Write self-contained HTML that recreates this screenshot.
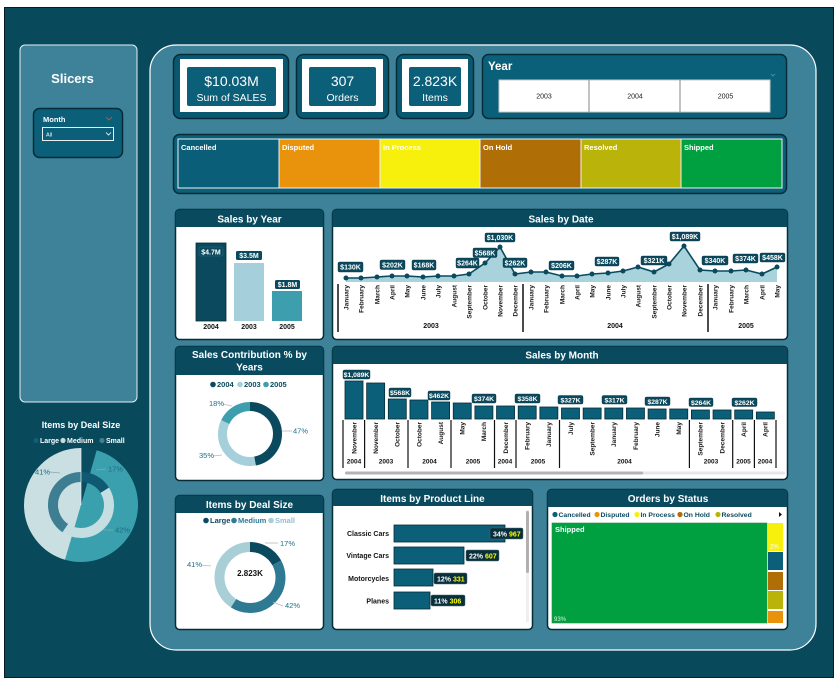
<!DOCTYPE html>
<html><head><meta charset="utf-8"><style>
html,body{margin:0;padding:0;background:#fff}
svg{display:block}
text{font-family:"Liberation Sans",sans-serif}
.b{font-weight:bold}
</style></head><body>
<svg width="838" height="685" viewBox="0 0 838 685" xmlns="http://www.w3.org/2000/svg">
<rect width="838" height="685" fill="#fff"/>
<rect x="4.5" y="7.5" width="829" height="670" fill="#08495b" stroke="#0a1a20"/>
<!-- main panel -->
<rect x="150" y="45" width="666" height="605" rx="26" fill="#3e8299" stroke="#fff" stroke-width="1.2"/>
<!-- slicers -->
<rect x="20" y="45" width="117" height="357" rx="5" fill="#3e8299" stroke="#e6eef0"/>
<text x="72.5" y="83" font-size="13" class="b" fill="#fff" text-anchor="middle">Slicers</text>
<rect x="33.5" y="108.5" width="89" height="49" rx="6" fill="#0b5f78" stroke="#062c38" stroke-width="1.5"/>
<text x="43" y="122" font-size="7.5" class="b" fill="#fff">Month</text>
<path d="M106,117 l3,3 l3,-3" stroke="#c0603a" fill="none" stroke-width="0.8"/>
<rect x="42.5" y="127.5" width="71" height="13" fill="#0b5f78" stroke="#e8eef0"/>
<text x="46" y="136.5" font-size="5.5" fill="#fff">All</text>
<path d="M106,132.5 l2.5,2.5 l2.5,-2.5" stroke="#fff" fill="none" stroke-width="0.8"/>

<!-- KPI cards -->
<rect x="173.5" y="54.5" width="115" height="64" rx="7" fill="#0a5870" stroke="#062c38" stroke-width="1.5"/>
<rect x="180" y="59" width="103" height="53" fill="#fff"/>
<rect x="187" y="67" width="89" height="39" rx="2" fill="#0b5f78"/>
<text x="231.5" y="86" font-size="14" fill="#fff" text-anchor="middle">$10.03M</text>
<text x="231.5" y="101" font-size="10.5" fill="#fff" text-anchor="middle">Sum of SALES</text>

<rect x="296.5" y="54.5" width="92" height="64" rx="7" fill="#0a5870" stroke="#062c38" stroke-width="1.5"/>
<rect x="302" y="59" width="81" height="53" fill="#fff"/>
<rect x="309" y="67" width="67" height="39" rx="2" fill="#0b5f78"/>
<text x="342.5" y="86" font-size="14" fill="#fff" text-anchor="middle">307</text>
<text x="342.5" y="101" font-size="10.5" fill="#fff" text-anchor="middle">Orders</text>

<rect x="396.5" y="54.5" width="77" height="64" rx="7" fill="#0a5870" stroke="#062c38" stroke-width="1.5"/>
<rect x="402" y="59" width="66" height="53" fill="#fff"/>
<rect x="409" y="67" width="52" height="39" rx="2" fill="#0b5f78"/>
<text x="435" y="86" font-size="14" fill="#fff" text-anchor="middle">2.823K</text>
<text x="435" y="101" font-size="10.5" fill="#fff" text-anchor="middle">Items</text>

<!-- Year slicer -->
<rect x="482.5" y="54.5" width="304" height="64" rx="6" fill="#0b6079" stroke="#062c38" stroke-width="1.5"/>
<text x="488" y="70" font-size="11.5" class="b" fill="#fff">Year</text>
<path d="M771,74 l2,2 l2,-2" stroke="#6a9aab" fill="none" stroke-width="0.7"/>
<rect x="499" y="80" width="271" height="32" fill="#fff" stroke="#c8c8c8"/>
<line x1="589" y1="80" x2="589" y2="112" stroke="#999" stroke-width="1.2"/>
<line x1="680" y1="80" x2="680" y2="112" stroke="#999" stroke-width="1.2"/>
<text x="544" y="98.5" font-size="7" fill="#222" text-anchor="middle">2003</text>
<text x="635" y="98.5" font-size="7" fill="#222" text-anchor="middle">2004</text>
<text x="725.5" y="98.5" font-size="7" fill="#222" text-anchor="middle">2005</text>

<!-- Status bar -->
<rect x="173.5" y="134.5" width="613" height="59" rx="6" fill="#0b5f78" stroke="#062c38" stroke-width="1.5"/>
<rect x="178" y="139" width="101" height="49" fill="#0a5e78"/>
<rect x="279" y="139" width="101" height="49" fill="#e8930b"/>
<rect x="380" y="139" width="100" height="49" fill="#f7ef0c"/>
<rect x="480" y="139" width="101" height="49" fill="#b06e07"/>
<rect x="581" y="139" width="100" height="49" fill="#bab30a"/>
<rect x="681" y="139" width="101" height="49" fill="#00a040"/>
<g stroke="#f0f0f0" stroke-width="1">
<line x1="279" y1="139" x2="279" y2="188"/><line x1="380" y1="139" x2="380" y2="188"/>
<line x1="480" y1="139" x2="480" y2="188"/><line x1="581" y1="139" x2="581" y2="188"/>
<line x1="681" y1="139" x2="681" y2="188"/>
</g>
<rect x="178" y="139" width="604" height="49" fill="none" stroke="#f0f0f0"/>
<g font-size="7.5" class="b" fill="#fff">
<text x="181" y="150">Cancelled</text><text x="282" y="150">Disputed</text>
<text x="383" y="150">In Process</text><text x="483" y="150">On Hold</text>
<text x="584" y="150">Resolved</text><text x="684" y="150">Shipped</text>
</g>

<!-- Sales by Year card -->
<rect x="175.5" y="209.5" width="148" height="130" rx="4" fill="#fff" stroke="#062c38" stroke-width="1.5"/>
<path d="M175.5,227 V213.5 Q175.5,209.5 179.5,209.5 H319.5 Q323.5,209.5 323.5,213.5 V227 Z" fill="#0a4a5e"/>
<text x="249.5" y="222.5" font-size="10" class="b" fill="#fff" text-anchor="middle">Sales by Year</text>
<rect x="196" y="243" width="30" height="78" fill="#0b4a5e" stroke="#062c38" stroke-width="0.8"/>
<rect x="234" y="263" width="30" height="58" fill="#a4cfdb"/>
<rect x="272" y="291" width="30" height="30" fill="#3d9fae"/>
<rect x="199" y="247" width="24" height="9" rx="1.5" fill="#0b4a5e" stroke="#2a6a80" stroke-width="0.5"/>
<rect x="236" y="251" width="26" height="9" rx="1.5" fill="#0b4a5e"/>
<rect x="275" y="280" width="25" height="9" rx="1.5" fill="#0b4a5e"/>
<g font-size="7" class="b" fill="#fff" text-anchor="middle">
<text x="211" y="254.5">$4.7M</text><text x="249" y="258">$3.5M</text><text x="287.5" y="287">$1.8M</text>
</g>
<g font-size="7" class="b" fill="#111" text-anchor="middle">
<text x="211" y="329">2004</text><text x="249" y="329">2003</text><text x="287" y="329">2005</text>
</g>

<!-- Sales by Date card -->
<rect x="332.5" y="209.5" width="455" height="130" rx="4" fill="#fff" stroke="#062c38" stroke-width="1.5"/>
<path d="M332.5,227 V213.5 Q332.5,209.5 336.5,209.5 H783.5 Q787.5,209.5 787.5,213.5 V227 Z" fill="#0a4a5e"/>
<text x="561" y="222.5" font-size="10" class="b" fill="#fff" text-anchor="middle">Sales by Date</text>
<polygon fill="#a8d2dc" points="346,278 361,278 377,277 392,276 407,276 423,277 438,276 454,276 469,274 485,263 500,247 515,274 531,272 546,272 562,276 577,276 592,274 608,273 623,271 638,267 654,272 669,264 684,246 700,270 715,271 731,271 746,270 762,274 777,267 777,282 346,282"/>
<polyline fill="none" stroke="#0b4a5e" stroke-width="1.6" points="346,278 361,278 377,277 392,276 407,276 423,277 438,276 454,276 469,274 485,263 500,247 515,274 531,272 546,272 562,276 577,276 592,274 608,273 623,271 638,267 654,272 669,264 684,246 700,270 715,271 731,271 746,270 762,274 777,267"/>
<g fill="#0b4a5e">
<circle cx="346" cy="278" r="2.5"/><circle cx="361" cy="278" r="2.5"/><circle cx="377" cy="277" r="2.5"/><circle cx="392" cy="276" r="2.5"/><circle cx="407" cy="276" r="2.5"/><circle cx="423" cy="277" r="2.5"/><circle cx="438" cy="276" r="2.5"/><circle cx="454" cy="276" r="2.5"/><circle cx="469" cy="274" r="2.5"/><circle cx="485" cy="263" r="2.5"/><circle cx="500" cy="247" r="2.5"/><circle cx="515" cy="274" r="2.5"/><circle cx="531" cy="272" r="2.5"/><circle cx="546" cy="272" r="2.5"/><circle cx="562" cy="276" r="2.5"/><circle cx="577" cy="276" r="2.5"/><circle cx="592" cy="274" r="2.5"/><circle cx="608" cy="273" r="2.5"/><circle cx="623" cy="271" r="2.5"/><circle cx="638" cy="267" r="2.5"/><circle cx="654" cy="272" r="2.5"/><circle cx="669" cy="264" r="2.5"/><circle cx="684" cy="246" r="2.5"/><circle cx="700" cy="270" r="2.5"/><circle cx="715" cy="271" r="2.5"/><circle cx="731" cy="271" r="2.5"/><circle cx="746" cy="270" r="2.5"/><circle cx="762" cy="274" r="2.5"/><circle cx="777" cy="267" r="2.5"/>
</g>
<g fill="#0b4a5e" stroke="#062c38" stroke-width="0.4">
<rect x="338" y="262" width="25" height="10" rx="1.5"/>
<rect x="380" y="260" width="25" height="9.5" rx="1.5"/>
<rect x="412" y="260" width="24" height="10" rx="1.5"/>
<rect x="456" y="258" width="23" height="10" rx="1.5"/>
<rect x="473" y="248" width="24" height="9.5" rx="1.5"/>
<rect x="485" y="233" width="30" height="9" rx="1.5"/>
<rect x="503" y="258" width="24" height="9.5" rx="1.5"/>
<rect x="549" y="261" width="25" height="9" rx="1.5"/>
<rect x="595" y="257" width="24" height="9" rx="1.5"/>
<rect x="641" y="256" width="26" height="9" rx="1.5"/>
<rect x="670" y="232" width="30" height="9" rx="1.5"/>
<rect x="702" y="256" width="26" height="9" rx="1.5"/>
<rect x="733" y="254" width="25" height="9" rx="1.5"/>
<rect x="760" y="253" width="25" height="9" rx="1.5"/>
</g>
<g font-size="7" class="b" fill="#fff" text-anchor="middle">
<text x="350.5" y="269.5">$130K</text><text x="392.5" y="267.5">$202K</text><text x="424" y="267.5">$168K</text>
<text x="467.5" y="265.5">$264K</text><text x="485" y="255.5">$568K</text><text x="500" y="240">$1,030K</text>
<text x="515" y="265.5">$262K</text><text x="561.5" y="268">$206K</text><text x="607" y="264">$287K</text>
<text x="654" y="263">$321K</text><text x="685" y="239">$1,089K</text><text x="715" y="263">$340K</text>
<text x="745.5" y="261">$374K</text><text x="772.5" y="260">$458K</text>
</g>
<g font-size="6.5" class="b" fill="#1a1a1a" text-anchor="end">
<text transform="translate(348.3,285) rotate(-90)">January</text>
<text transform="translate(363.3,285) rotate(-90)">February</text>
<text transform="translate(379.3,285) rotate(-90)">March</text>
<text transform="translate(394.3,285) rotate(-90)">April</text>
<text transform="translate(409.3,285) rotate(-90)">May</text>
<text transform="translate(425.3,285) rotate(-90)">June</text>
<text transform="translate(440.3,285) rotate(-90)">July</text>
<text transform="translate(456.3,285) rotate(-90)">August</text>
<text transform="translate(471.3,285) rotate(-90)">September</text>
<text transform="translate(487.3,285) rotate(-90)">October</text>
<text transform="translate(502.3,285) rotate(-90)">November</text>
<text transform="translate(517.3,285) rotate(-90)">December</text>
<text transform="translate(533.3,285) rotate(-90)">January</text>
<text transform="translate(548.3,285) rotate(-90)">February</text>
<text transform="translate(564.3,285) rotate(-90)">March</text>
<text transform="translate(579.3,285) rotate(-90)">April</text>
<text transform="translate(594.3,285) rotate(-90)">May</text>
<text transform="translate(610.3,285) rotate(-90)">June</text>
<text transform="translate(625.3,285) rotate(-90)">July</text>
<text transform="translate(640.3,285) rotate(-90)">August</text>
<text transform="translate(656.3,285) rotate(-90)">September</text>
<text transform="translate(671.3,285) rotate(-90)">October</text>
<text transform="translate(686.3,285) rotate(-90)">November</text>
<text transform="translate(702.3,285) rotate(-90)">December</text>
<text transform="translate(717.3,285) rotate(-90)">January</text>
<text transform="translate(733.3,285) rotate(-90)">February</text>
<text transform="translate(748.3,285) rotate(-90)">March</text>
<text transform="translate(764.3,285) rotate(-90)">April</text>
<text transform="translate(779.3,285) rotate(-90)">May</text>
</g>
<g stroke="#111" stroke-width="1.5">
<line x1="338" y1="284" x2="338" y2="332"/><line x1="523" y1="284" x2="523" y2="332"/><line x1="708" y1="284" x2="708" y2="332"/>
</g>
<g font-size="7" class="b" fill="#111" text-anchor="middle">
<text x="431" y="328">2003</text><text x="615" y="328">2004</text><text x="746" y="328">2005</text>
</g>

<!-- Sales Contribution card -->
<rect x="175.5" y="346.5" width="148" height="134" rx="4" fill="#fff" stroke="#062c38" stroke-width="1.5"/>
<path d="M175.5,375 V350.5 Q175.5,346.5 179.5,346.5 H319.5 Q323.5,346.5 323.5,350.5 V375 Z" fill="#0a4a5e"/>
<text x="249.5" y="358" font-size="10" class="b" fill="#fff" text-anchor="middle">Sales Contribution % by</text>
<text x="249.5" y="370.5" font-size="10" class="b" fill="#fff" text-anchor="middle">Years</text>
<circle cx="213" cy="384.5" r="2.8" fill="#0b4a5e"/><circle cx="240" cy="384.5" r="2.8" fill="#a4cfdb"/><circle cx="266" cy="384.5" r="2.8" fill="#3d9fae"/>
<g font-size="7.5" class="b" fill="#0b4a5e">
<text x="217" y="387">2004</text><text x="244" y="387">2003</text><text x="270" y="387">2005</text>
</g>
<g transform="rotate(-90 250 434)" fill="none" stroke-width="9">
<circle cx="250" cy="434" r="27.5" stroke="#0b4a5e" stroke-dasharray="0 0 81.21 500"/>
<circle cx="250" cy="434" r="27.5" stroke="#a4cfdb" stroke-dasharray="0 81.21 60.48 500"/>
<circle cx="250" cy="434" r="27.5" stroke="#3d9fae" stroke-dasharray="0 141.69 31.1 500"/>
</g>
<g stroke="#b8b8b8" stroke-width="0.8">
<line x1="282" y1="431" x2="292" y2="431"/><line x1="213" y1="456" x2="222" y2="455"/><line x1="223" y1="404" x2="232" y2="406"/>
</g>
<g font-size="7.5" fill="#1a6f88">
<text x="293" y="433.5">47%</text><text x="199" y="458">35%</text><text x="209" y="406">18%</text>
</g>

<!-- Sales by Month card -->
<rect x="332.5" y="346.5" width="455" height="133" rx="4" fill="#fff" stroke="#062c38" stroke-width="1.5"/>
<path d="M332.5,364 V350.5 Q332.5,346.5 336.5,346.5 H783.5 Q787.5,346.5 787.5,350.5 V364 Z" fill="#0a4a5e"/>
<text x="562" y="358.5" font-size="10" class="b" fill="#fff" text-anchor="middle">Sales by Month</text>
<g fill="#0b5f78" stroke="#062c38" stroke-width="0.8">
<rect x="345" y="381" width="18" height="38"/>
<rect x="366.65" y="383" width="18" height="36"/>
<rect x="388.3" y="399" width="18" height="20"/>
<rect x="409.95" y="400" width="18" height="19"/>
<rect x="431.6" y="402" width="18" height="17"/>
<rect x="453.25" y="403" width="18" height="16"/>
<rect x="474.9" y="406" width="18" height="13"/>
<rect x="496.55" y="406" width="18" height="13"/>
<rect x="518.2" y="406" width="18" height="13"/>
<rect x="539.85" y="407" width="18" height="12"/>
<rect x="561.5" y="408" width="18" height="11"/>
<rect x="583.15" y="408" width="18" height="11"/>
<rect x="604.8" y="408" width="18" height="11"/>
<rect x="626.45" y="408" width="18" height="11"/>
<rect x="648.1" y="409" width="18" height="10"/>
<rect x="669.75" y="409" width="18" height="10"/>
<rect x="691.4" y="410" width="18" height="9"/>
<rect x="713.05" y="410" width="18" height="9"/>
<rect x="734.7" y="410" width="18" height="9"/>
<rect x="756.35" y="412" width="18" height="7"/>
</g>
<g fill="#0b4a5e" stroke="#062c38" stroke-width="0.4">
<rect x="343" y="370" width="27" height="9" rx="1.5"/>
<rect x="389" y="388" width="22" height="9" rx="1.5"/>
<rect x="428" y="391" width="22" height="9" rx="1.5"/>
<rect x="472" y="394" width="24" height="9" rx="1.5"/>
<rect x="515" y="394" width="25" height="9" rx="1.5"/>
<rect x="558" y="395.5" width="25" height="8.5" rx="1.5"/>
<rect x="602" y="395.5" width="25" height="8.5" rx="1.5"/>
<rect x="645" y="397" width="25" height="8.5" rx="1.5"/>
<rect x="689" y="398" width="24" height="8.5" rx="1.5"/>
<rect x="732" y="398" width="25" height="8.5" rx="1.5"/>
</g>
<g font-size="6.8" class="b" fill="#fff" text-anchor="middle">
<text x="356.5" y="377">$1,089K</text><text x="400" y="395">$568K</text><text x="439" y="398">$462K</text>
<text x="484" y="401">$374K</text><text x="527.5" y="401">$358K</text><text x="570.5" y="402.5">$327K</text>
<text x="614.5" y="402.5">$317K</text><text x="657.5" y="404">$287K</text><text x="701" y="405">$264K</text>
<text x="744.5" y="405">$262K</text>
</g>
<g font-size="6.5" class="b" fill="#1a1a1a" text-anchor="end">
<text transform="translate(356.3,422) rotate(-90)">November</text>
<text transform="translate(378,422) rotate(-90)">November</text>
<text transform="translate(399.6,422) rotate(-90)">October</text>
<text transform="translate(421.3,422) rotate(-90)">October</text>
<text transform="translate(442.9,422) rotate(-90)">August</text>
<text transform="translate(464.6,422) rotate(-90)">May</text>
<text transform="translate(486.2,422) rotate(-90)">March</text>
<text transform="translate(507.9,422) rotate(-90)">December</text>
<text transform="translate(529.5,422) rotate(-90)">February</text>
<text transform="translate(551.2,422) rotate(-90)">January</text>
<text transform="translate(572.8,422) rotate(-90)">July</text>
<text transform="translate(594.5,422) rotate(-90)">September</text>
<text transform="translate(616.1,422) rotate(-90)">January</text>
<text transform="translate(637.8,422) rotate(-90)">February</text>
<text transform="translate(659.4,422) rotate(-90)">June</text>
<text transform="translate(681.1,422) rotate(-90)">May</text>
<text transform="translate(702.7,422) rotate(-90)">September</text>
<text transform="translate(724.4,422) rotate(-90)">December</text>
<text transform="translate(746,422) rotate(-90)">April</text>
<text transform="translate(767.7,422) rotate(-90)">April</text>
</g>
<g stroke="#111" stroke-width="1.2">
<line x1="343" y1="420" x2="343" y2="468"/><line x1="364.6" y1="420" x2="364.6" y2="468"/>
<line x1="408" y1="420" x2="408" y2="468"/><line x1="451" y1="420" x2="451" y2="468"/>
<line x1="494.5" y1="420" x2="494.5" y2="468"/><line x1="516" y1="420" x2="516" y2="468"/>
<line x1="559.5" y1="420" x2="559.5" y2="468"/><line x1="689.4" y1="420" x2="689.4" y2="468"/>
<line x1="732.7" y1="420" x2="732.7" y2="468"/><line x1="754.4" y1="420" x2="754.4" y2="468"/>
<line x1="776" y1="420" x2="776" y2="468"/>
</g>
<g font-size="6.5" class="b" fill="#111" text-anchor="middle">
<text x="354" y="463.5">2004</text><text x="386" y="463.5">2003</text><text x="429.5" y="463.5">2004</text>
<text x="473" y="463.5">2005</text><text x="505" y="463.5">2004</text><text x="538" y="463.5">2005</text>
<text x="624.5" y="463.5">2004</text><text x="711" y="463.5">2003</text><text x="743.5" y="463.5">2005</text>
<text x="765" y="463.5">2004</text>
</g>
<rect x="345" y="471.5" width="440" height="3" rx="1.5" fill="#e6e6e6"/>
<rect x="345" y="471.5" width="298" height="3" rx="1.5" fill="#b3b3b3"/>

<!-- Items by Deal Size card -->
<rect x="175.5" y="495.5" width="148" height="134" rx="4" fill="#fff" stroke="#062c38" stroke-width="1.5"/>
<path d="M175.5,513 V499.5 Q175.5,495.5 179.5,495.5 H319.5 Q323.5,495.5 323.5,499.5 V513 Z" fill="#0a4a5e"/>
<text x="249.5" y="508" font-size="10" class="b" fill="#fff" text-anchor="middle">Items by Deal Size</text>
<circle cx="206" cy="520.5" r="2.8" fill="#0b4a5e"/><circle cx="234" cy="520.5" r="2.8" fill="#2e7a93"/><circle cx="271" cy="520.5" r="2.8" fill="#a9cfd6"/>
<g font-size="7.5" class="b">
<text x="210" y="523" fill="#0b4a5e">Large</text><text x="238" y="523" fill="#2e7a93">Medium</text><text x="275" y="523" fill="#8fbfca">Small</text>
</g>
<g transform="rotate(-90 250 577.5)" fill="none" stroke-width="10">
<circle cx="250" cy="577.5" r="30.5" stroke="#0b4a5e" stroke-dasharray="0 0 32.58 500"/>
<circle cx="250" cy="577.5" r="30.5" stroke="#2e7a93" stroke-dasharray="0 32.58 80.49 500"/>
<circle cx="250" cy="577.5" r="30.5" stroke="#a9cfd6" stroke-dasharray="0 113.07 78.57 500"/>
</g>
<text x="250" y="576" font-size="8" class="b" fill="#111" text-anchor="middle">2.823K</text>
<g stroke="#b8b8b8" stroke-width="0.8">
<line x1="265" y1="543" x2="278" y2="543"/><line x1="273" y1="602" x2="283" y2="606"/><line x1="201" y1="565" x2="211" y2="566"/>
</g>
<g font-size="7.5" fill="#1e6f88">
<text x="280" y="546">17%</text><text x="285" y="608">42%</text><text x="187" y="567">41%</text>
</g>

<!-- Items by Product Line card -->
<rect x="332.5" y="489.5" width="200" height="140" rx="4" fill="#fff" stroke="#062c38" stroke-width="1.5"/>
<path d="M332.5,506 V493.5 Q332.5,489.5 336.5,489.5 H528.5 Q532.5,489.5 532.5,493.5 V506 Z" fill="#0a4a5e"/>
<text x="432.5" y="502" font-size="10" class="b" fill="#fff" text-anchor="middle">Items by Product Line</text>
<g font-size="7" class="b" fill="#111" text-anchor="end">
<text x="389" y="536">Classic Cars</text><text x="389" y="558">Vintage Cars</text>
<text x="389" y="581">Motorcycles</text><text x="389" y="603.5">Planes</text>
</g>
<g fill="#0b5f78" stroke="#062c38" stroke-width="0.8">
<rect x="394" y="525" width="111" height="17"/><rect x="394" y="547" width="70" height="17"/>
<rect x="394" y="569" width="39" height="17"/><rect x="394" y="592" width="36" height="17"/>
</g>
<g fill="#082f3c" stroke="#4a6a75" stroke-width="0.5">
<rect x="490" y="528" width="33" height="11" rx="1.5"/><rect x="466" y="550" width="33" height="11" rx="1.5"/>
<rect x="434" y="573" width="33" height="11" rx="1.5"/><rect x="431" y="595" width="34" height="11" rx="1.5"/>
</g>
<g font-size="7" class="b">
<text x="493" y="536.5" fill="#fff">34% <tspan fill="#ffff00">967</tspan></text>
<text x="469" y="558.5" fill="#fff">22% <tspan fill="#ffff00">607</tspan></text>
<text x="437" y="581.5" fill="#fff">12% <tspan fill="#ffff00">331</tspan></text>
<text x="434" y="603.5" fill="#fff">11% <tspan fill="#ffff00">306</tspan></text>
</g>
<rect x="526" y="510" width="3" height="112" fill="#efefef"/>
<rect x="526" y="511" width="3" height="62" rx="1.5" fill="#b0b0b0"/>

<!-- Orders by Status card -->
<rect x="547.5" y="489.5" width="240" height="140" rx="4" fill="#fff" stroke="#062c38" stroke-width="1.5"/>
<path d="M547.5,507 V493.5 Q547.5,489.5 551.5,489.5 H783.5 Q787.5,489.5 787.5,493.5 V507 Z" fill="#0a4a5e"/>
<text x="668" y="502" font-size="10" class="b" fill="#fff" text-anchor="middle">Orders by Status</text>
<circle cx="555" cy="514.5" r="2.6" fill="#0b5f78"/><circle cx="597" cy="514.5" r="2.6" fill="#e8930b"/>
<circle cx="637" cy="514.5" r="2.6" fill="#f7ef0c"/><circle cx="680" cy="514.5" r="2.6" fill="#b06e07"/>
<circle cx="718" cy="514.5" r="2.6" fill="#bab30a"/>
<g font-size="6.8" class="b" fill="#0b4a5e">
<text x="558.5" y="517">Cancelled</text><text x="600.5" y="517">Disputed</text><text x="640.5" y="517">In Process</text>
<text x="683.5" y="517">On Hold</text><text x="721.5" y="517">Resolved</text>
</g>
<path d="M779,512 l3,2.5 l-3,2.5 z" fill="#111"/>
<rect x="552" y="523" width="215" height="100" fill="#00a040" stroke="#2a8a4a" stroke-width="0.6"/>
<text x="555" y="532" font-size="7.5" class="b" fill="#fff">Shipped</text>
<text x="554" y="621" font-size="6" fill="#d8f0e0">93%</text>
<rect x="768" y="523" width="15" height="28" fill="#f7ef0c"/>
<text x="770" y="548.5" font-size="6" fill="#fff">2%</text>
<rect x="768" y="552" width="15" height="18" fill="#0b5f78"/>
<rect x="768" y="572" width="15" height="18" fill="#b06e07"/>
<rect x="768" y="591" width="15" height="18" fill="#bab30a"/>
<rect x="768" y="611" width="15" height="12" fill="#e8930b"/>

<!-- Left Items by Deal Size -->
<text x="81" y="428" font-size="9" class="b" fill="#fff" text-anchor="middle">Items by Deal Size</text>
<circle cx="36" cy="440.5" r="2.6" fill="#0e5f77"/><circle cx="63" cy="440.5" r="2.6" fill="#c8dadd"/><circle cx="102" cy="440.5" r="2.6" fill="#3d7f93"/>
<g font-size="7" class="b" fill="#fff">
<text x="40" y="443">Large</text><text x="67" y="443">Medium</text><text x="106" y="443">Small</text>
</g>
<g transform="rotate(-90 81 505)" fill="none" stroke-width="57">
<circle cx="81" cy="505" r="28.5" stroke="#0b4d60" stroke-dasharray="0 0 7.96 500"/>
<circle cx="81" cy="505" r="28.5" stroke="#3ba0ae" stroke-dasharray="0 7.96 89.54 500"/>
<circle cx="81" cy="505" r="28.5" stroke="#c9dfe2" stroke-dasharray="0 97.5 81.58 500"/>
</g>
<g transform="rotate(-90 81 505)" fill="none" stroke-width="10">
<circle cx="81" cy="505" r="28" stroke="#0f5a72" stroke-dasharray="0 0 28.34 500"/>
<circle cx="81" cy="505" r="28" stroke="#c5dee1" stroke-dasharray="0 28.34 76.24 500"/>
<circle cx="81" cy="505" r="28" stroke="#3d7e93" stroke-dasharray="0 104.58 71.35 500"/>
</g>
<line x1="81" y1="448" x2="81" y2="505" stroke="#e8f0f2" stroke-width="0.7"/>
<g stroke="#8aa8b0" stroke-width="0.7">
<line x1="50" y1="472" x2="60" y2="473"/><line x1="96" y1="470" x2="106" y2="469"/><line x1="103" y1="530" x2="113" y2="530"/>
</g>
<g font-size="7.5" fill="#1c6a83">
<text x="35" y="474.5">41%</text><text x="108" y="471.5">17%</text><text x="115" y="532.5">42%</text>
</g>
</svg>
</body></html>
